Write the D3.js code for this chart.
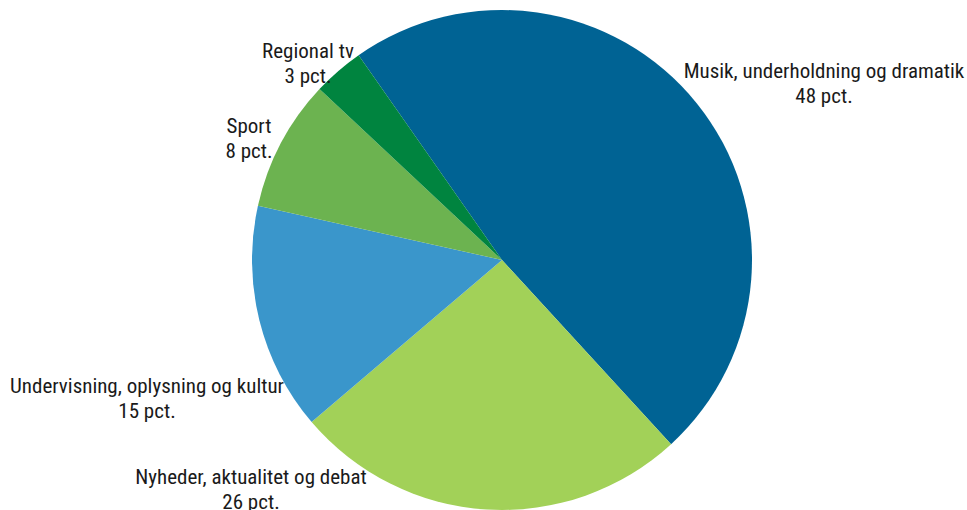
<!DOCTYPE html>
<html>
<head>
<meta charset="utf-8">
<script src="https://cdn.jsdelivr.net/npm/d3@7"></script>
<style>
  body { margin: 0; background: #fff; }
  text { font-family: "Liberation Sans Narrow", "Roboto Condensed", "DejaVu Sans Condensed", sans-serif; font-size: 21px; fill: #1a1a1a; }
</style>
</head>
<body>
<div id="chart"></div>
<script>
// data (shares; labels show the rounded figures)
const categories = ["Musik, underholdning og dramatik", "Nyheder, aktualitet og debat", "Undervisning, oplysning og kultur", "Sport", "Regional tv"];
const values = [47.9, 25.6, 14.7, 8.5, 3.3];
const valueLabels = ["48 pct.", "26 pct.", "15 pct.", "8 pct.", "3 pct."];
const colors = ["#006394", "#a2d158", "#3a96cb", "#6cb350", "#00843f"];

const width = 967, height = 510;
const cx = 502, cy = 260, radius = 250;

const svg = d3.select("#chart")
    .append("svg")
    .attr("width", width)
    .attr("height", height);

const g = svg.append("g")
    .attr("transform", `translate(${cx},${cy})`);

const data = categories.map((c, i) => ({ name: c, value: values[i], label: valueLabels[i], color: colors[i] }));

// start the first slice a bit left of 12 o'clock, like the original
const startAngle = -35 * Math.PI / 180;
const pie = d3.pie()
    .value(d => d.value)
    .sort(null)
    .startAngle(startAngle)
    .endAngle(startAngle + 2 * Math.PI);

const arc = d3.arc().innerRadius(0).outerRadius(radius);

g.selectAll("path")
    .data(pie(data))
    .join("path")
    .attr("d", arc)
    .attr("fill", d => d.data.color);

// label anchors (first baseline), relative to the pie centre, hand placed
const labelPos = {
    "Musik, underholdning og dramatik": [322, -182],
    "Nyheder, aktualitet og debat": [-251, 224],
    "Undervisning, oplysning og kultur": [-355, 133],
    "Sport": [-253, -127],
    "Regional tv": [-194, -202]
};

const labels = g.selectAll("text.lbl")
    .data(data)
    .join("text")
    .attr("class", "lbl")
    .attr("text-anchor", "middle")
    .attr("transform", d => `translate(${labelPos[d.name][0]},${labelPos[d.name][1]})`);

labels.append("tspan")
    .attr("x", 0)
    .attr("dy", 0)
    .text(d => d.name);

labels.append("tspan")
    .attr("x", 0)
    .attr("dy", 25)
    .text(d => d.label);
</script>
</body>
</html>
